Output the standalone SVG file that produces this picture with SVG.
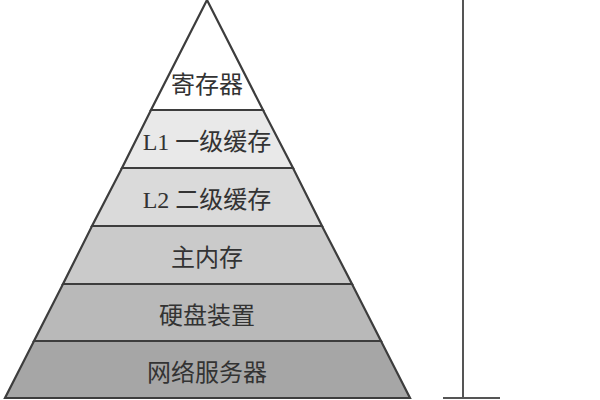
<svg xmlns="http://www.w3.org/2000/svg" width="600" height="400" viewBox="0 0 600 400">
<style>
.layer{stroke:#3d3d3d;stroke-width:2.2;stroke-linejoin:miter}
.lbl{font-family:"Liberation Serif","Noto Sans CJK SC",serif;font-size:24px;fill:#333;text-anchor:middle}
.axis{stroke:#555;stroke-width:2;fill:none}
</style>
<rect width="600" height="400" fill="#fff"/>
<g id="registers"><polygon class="layer" fill="#ffffff" points="207,0 263,110 151,110"/><text class="lbl" x="207" y="93">寄存器</text></g>
<g id="l1"><polygon class="layer" fill="#e9e9e9" points="151,110 263,110 293,168 122,168"/><text class="lbl" x="207" y="150">L1 一级缓存</text></g>
<g id="l2"><polygon class="layer" fill="#dadada" points="122,168 293,168 322,226 92,226"/><text class="lbl" x="207" y="208">L2 二级缓存</text></g>
<g id="main"><polygon class="layer" fill="#cacaca" points="92,226 322,226 352,284 63,284"/><text class="lbl" x="207" y="266">主内存</text></g>
<g id="disk"><polygon class="layer" fill="#b9b9b9" points="63,284 352,284 381,341 34,341"/><text class="lbl" x="207" y="324">硬盘装置</text></g>
<g id="network"><polygon class="layer" fill="#a6a6a6" points="34,341 381,341 410,398 5,398"/><text class="lbl" x="207" y="381">网络服务器</text></g>
<g id="connectors">
<line class="axis" x1="463" y1="0" x2="463" y2="398"/>
<line class="axis" x1="443" y1="398" x2="500" y2="398" stroke-width="2.5"/>
</g>
</svg>
